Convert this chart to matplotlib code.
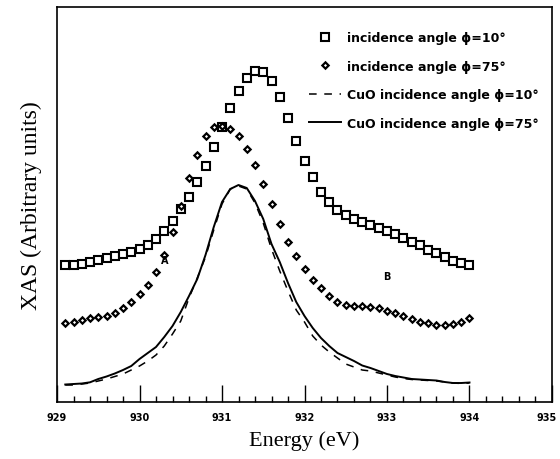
import numpy as np
import matplotlib
matplotlib.use("Agg")
import matplotlib.pyplot as plt
from matplotlib.ticker import MultipleLocator
from matplotlib.transforms import ScaledTranslation

energy = np.round(np.arange(929.1, 934.05, 0.1), 2)

xas_10 = [137, 137, 138, 140, 142, 144, 146, 148, 150, 153,
          157, 163, 171, 181, 193, 205, 220, 236, 255, 275,
          294, 311, 324, 331, 330, 321, 305, 284, 261, 241,
          225, 210, 200, 192, 187, 183, 180, 177, 174, 171,
          168, 164, 160, 157, 152, 149, 145, 141, 139, 137]

xas_75 = [79, 80, 82, 84, 85, 86, 89, 94, 100, 108,
          117, 130, 147, 170, 196, 224, 247, 266, 275, 276,
          273, 266, 253, 237, 218, 198, 178, 160, 146, 133,
          122, 114, 106, 100, 97, 96, 96, 95, 94, 91,
          89, 86, 83, 80, 79, 77, 77, 78, 80, 84]

cuo_10 = [17, 17, 18, 19, 21, 23, 25.5, 28, 32, 36,
          41, 47, 56, 68, 81, 104, 124, 145, 172, 198,
          213, 216, 213, 199, 179, 153, 131, 111, 92, 80,
          66, 57, 50, 44, 38, 35, 32, 31, 29, 27,
          25, 23.5, 22.5, 22, 21.5, 21, 20, 19, 18.5, 19]

cuo_75 = [17.5, 18, 18.5, 19.7, 23, 25.5, 28.5, 32, 36, 43,
          49, 55, 65, 76, 90, 106, 123, 147, 175, 200,
          213, 217, 214, 201, 183, 158, 140, 119, 100, 86,
          74, 64, 56, 49, 45, 41, 36.5, 34, 31, 28,
          26, 24.5, 23, 22.5, 22, 21.5, 20, 19, 19, 19.5]

labels = ["incidence angle \u03d5=10\u00b0", "incidence angle \u03d5=75\u00b0",
          "CuO incidence angle \u03d5=10\u00b0", "CuO incidence angle \u03d5=75\u00b0"]
xticks = [929, 930, 931, 932, 933, 934, 935]

fig = plt.figure(figsize=(5.6, 4.6), dpi=100)
ax = fig.add_axes([0.1018, 0.1239, 0.8839, 0.8587])

ax.plot(energy, xas_10, linestyle='none', marker='s', markersize=5.3,
        mfc='white', mec='black', mew=1.5, label=labels[0])
ax.plot(energy, xas_75, linestyle='none', marker='D', markersize=3.2,
        mfc='white', mec='black', mew=1.6, label=labels[1])
ax.plot(energy, cuo_10, linestyle=(0, (5, 5)), color='black', lw=1.1, label=labels[2])
ax.plot(energy, cuo_75, linestyle='-', color='black', lw=1.4, label=labels[3])

ax.text(930.3, 142, "A", fontsize=7, fontweight='bold', ha='center', va='center')
ax.text(933.0, 126, "B", fontsize=7, fontweight='bold', ha='center', va='center')

ax.set_xlim(929, 935)
ax.set_ylim(0, 395)
ax.set_xticks(xticks)
ax.set_xticklabels([str(t) for t in xticks], fontsize=7, fontweight='bold')
ax.xaxis.set_minor_locator(MultipleLocator(0.2))
ax.tick_params(axis='x', which='major', direction='in', length=12, width=1, pad=7)
ax.tick_params(axis='x', which='minor', direction='in', length=4, width=1)
ax.set_yticks([])
for s in ax.spines.values():
    s.set_linewidth(1.2)

# nudge last tick label so it stays inside the canvas
last = ax.get_xticklabels()[-1]
last.set_transform(last.get_transform() + ScaledTranslation(-5 / 100, 0, fig.dpi_scale_trans))

ax.set_xlabel("Energy (eV)", fontsize=16, family='Liberation Serif', labelpad=6)
ax.set_ylabel("XAS (Arbitrary units)", fontsize=17, family='Liberation Serif', labelpad=11)

leg = ax.legend(loc='upper left', bbox_to_anchor=(0.487, 0.968), frameon=False,
                prop={'size': 9, 'weight': 'bold'}, handlelength=2.5,
                labelspacing=1.25, handletextpad=0.5, borderpad=0.4)

fig.savefig("out.png", dpi=100)
